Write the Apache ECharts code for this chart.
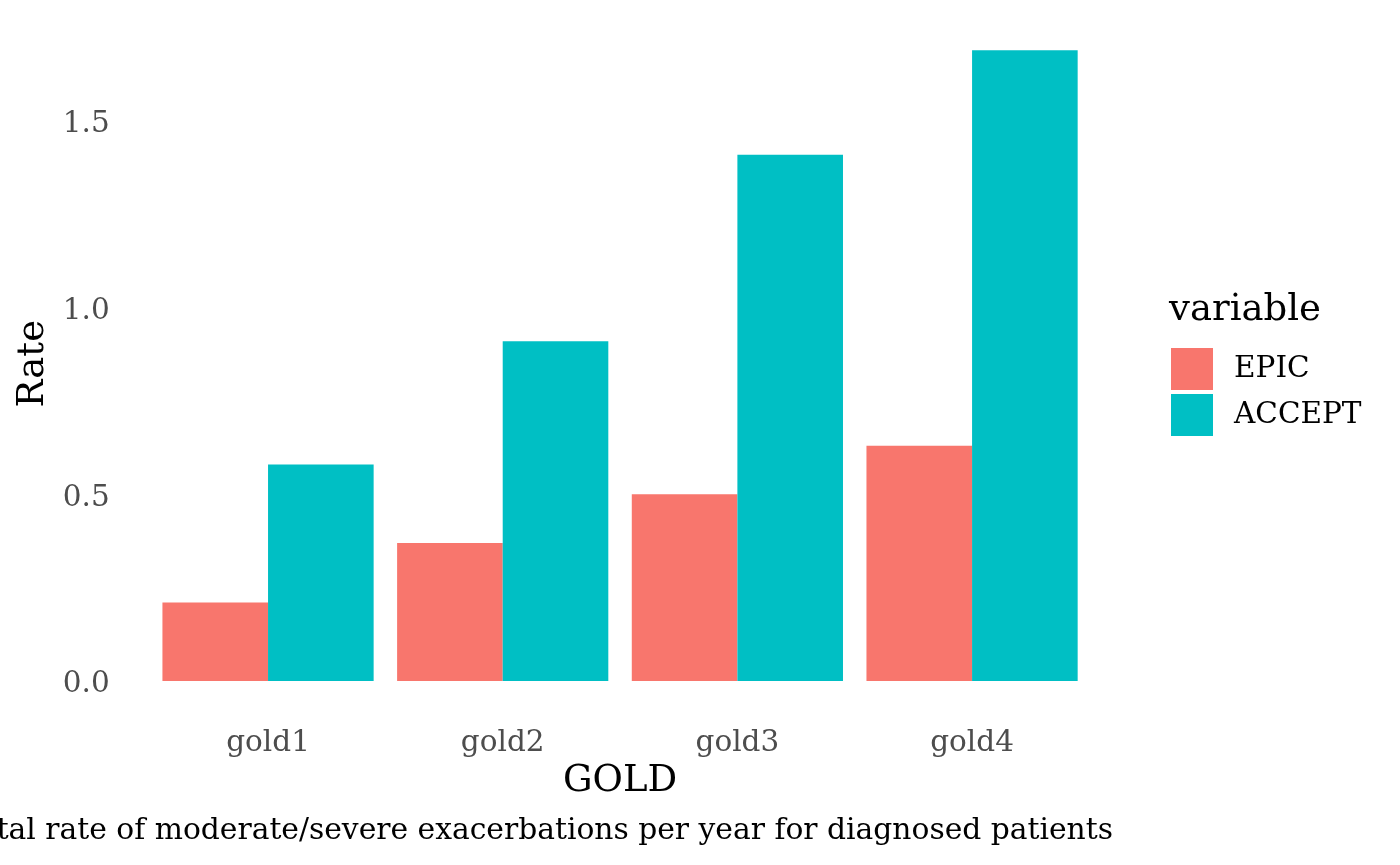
<!DOCTYPE html>
<html>
<head>
<meta charset="utf-8">
<script src="https://cdn.jsdelivr.net/npm/echarts@6/dist/echarts.min.js"></script>
<style>html,body{margin:0;padding:0;background:#fff}#c{width:1400px;height:865px}</style>
</head>
<body>
<div id="c"></div>
<script>
const categories = ['gold1', 'gold2', 'gold3', 'gold4'];
const epic = [0.21, 0.37, 0.50, 0.63];
const accept = [0.58, 0.91, 1.41, 1.69];
const seriesNames = ['EPIC', 'ACCEPT'];
const colors = ['#F8766D', '#00BFC4'];
const FONT = 'DejaVu Serif';

const chart = echarts.init(document.getElementById('c'), null, {renderer: 'canvas'});
chart.setOption({
  animation: false,
  backgroundColor: '#fff',
  color: colors,
  textStyle: {fontFamily: FONT},
  grid: {left: 150.7, width: 938.7, top: 46.4, height: 634.6, containLabel: false},
  xAxis: {
    type: 'category',
    data: categories,
    axisLine: {show: false},
    axisTick: {show: false},
    splitLine: {show: false},
    axisLabel: {color: '#4D4D4D', fontSize: 29.5, fontFamily: FONT, margin: 47},
    name: 'GOLD',
    nameLocation: 'middle',
    nameGap: 82,
    nameTextStyle: {color: '#000', fontSize: 37, fontFamily: FONT}
  },
  yAxis: {
    type: 'value',
    min: 0,
    max: 1.7,
    interval: 0.5,
    axisLine: {show: false},
    axisTick: {show: false},
    splitLine: {show: false},
    axisLabel: {
      color: '#4D4D4D', fontSize: 29.5, fontFamily: FONT, margin: 41,
      formatter: v => (Math.abs(v * 2 - Math.round(v * 2)) < 1e-9 ? '{a|' + v.toFixed(1) + '}' : ''),
      rich: {a: {color: '#4D4D4D', fontSize: 29.5, fontFamily: FONT, padding: [7, 0, 0, 0]}}
    },
    name: 'Rate',
    nameLocation: 'middle',
    nameGap: 93,
    nameTextStyle: {color: '#000', fontSize: 37, fontFamily: FONT}
  },
  legend: {
    orient: 'vertical',
    left: 1171,
    top: 348,
    padding: 0,
    itemWidth: 42,
    itemHeight: 42,
    itemGap: 4,
    icon: 'rect',
    data: seriesNames,
    textStyle: {color: '#000', fontSize: 29.5, fontFamily: FONT, padding: [0, 0, 0, 16]}
  },
  graphic: [
    {type: 'text', left: 1169, top: 292, style: {text: 'variable', font: '37px "DejaVu Serif"', fill: '#000'}},
    {type: 'text', right: 287, top: 816, style: {text: 'Total rate of moderate/severe exacerbations per year for diagnosed patients', font: '29.75px "DejaVu Serif"', fill: '#000', align: 'right'}}
  ],
  series: [
    {name: seriesNames[0], type: 'bar', data: epic, barGap: '0%', barCategoryGap: '10%'},
    {name: seriesNames[1], type: 'bar', data: accept, barGap: '0%', barCategoryGap: '10%'}
  ]
});
</script>
</body>
</html>
